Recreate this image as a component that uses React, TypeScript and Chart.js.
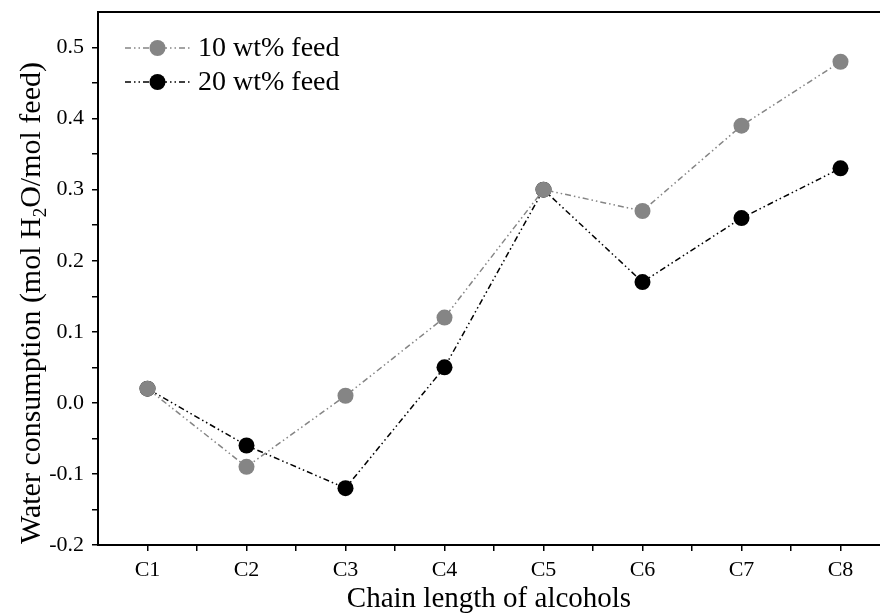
import React, { useEffect, useRef } from 'react';
import { Chart, registerables } from 'chart.js';

Chart.register(...registerables);

const categories = ['C1', 'C2', 'C3', 'C4', 'C5', 'C6', 'C7', 'C8'];
const feed10 = [0.02, -0.09, 0.01, 0.12, 0.30, 0.27, 0.39, 0.48];
const feed20 = [0.02, -0.06, -0.12, 0.05, 0.30, 0.17, 0.26, 0.33];
const seriesNames = ['10 wt% feed', '20 wt% feed'];
const seriesColors = ['#858585', '#000000'];
const yMajorTicks = [-0.2, -0.1, 0.0, 0.1, 0.2, 0.3, 0.4, 0.5];
const xTitle = 'Chain length of alcohols';
const yTitleParts = ['Water consumption (mol H', '2', 'O/mol feed)'];

const FONT = '"Liberation Serif", "Times New Roman", serif';
const DASH = [6, 3, 1.5, 3, 1.5, 3];

const decorPlugin = {
  id: 'decor',
  afterDraw(chart: any) {
    const { ctx, chartArea } = chart;
    ctx.save();
    // top border
    ctx.strokeStyle = '#000';
    ctx.lineWidth = 2;
    ctx.beginPath();
    ctx.moveTo(chartArea.left - 1, chartArea.top);
    ctx.lineTo(chartArea.right + 1, chartArea.top);
    ctx.stroke();

    // legend
    chart.data.datasets.forEach((ds: any, i: number) => {
      const cy = chartArea.top + 36 + i * 34;
      const x0 = chartArea.left + 27;
      const x1 = chartArea.left + 92;
      ctx.strokeStyle = ds.borderColor;
      ctx.lineWidth = 1.5;
      ctx.setLineDash(DASH);
      ctx.beginPath();
      ctx.moveTo(x0, cy);
      ctx.lineTo(x1, cy);
      ctx.stroke();
      ctx.setLineDash([]);
      ctx.fillStyle = ds.backgroundColor;
      ctx.beginPath();
      ctx.arc((x0 + x1) / 2, cy, 8, 0, Math.PI * 2);
      ctx.fill();
      ctx.fillStyle = '#000';
      ctx.font = '28px ' + FONT;
      ctx.textAlign = 'left';
      ctx.textBaseline = 'middle';
      ctx.fillText(ds.label, x1 + 8, cy + 1);
    });

    // x title
    ctx.fillStyle = '#000';
    ctx.font = '29px ' + FONT;
    ctx.textAlign = 'center';
    ctx.textBaseline = 'middle';
    ctx.fillText(xTitle, (chartArea.left + 880) / 2, 599);

    // y title with subscript
    ctx.translate(30, 303);
    ctx.rotate(-Math.PI / 2);
    const big = '30px ' + FONT;
    const small = '19px ' + FONT;
    ctx.font = big;
    const w0 = ctx.measureText(yTitleParts[0]).width;
    const w2 = ctx.measureText(yTitleParts[2]).width;
    ctx.font = small;
    const w1 = ctx.measureText(yTitleParts[1]).width;
    const total = w0 + w1 + w2;
    let x = -total / 2;
    ctx.textAlign = 'left';
    ctx.textBaseline = 'alphabetic';
    ctx.font = big;
    ctx.fillText(yTitleParts[0], x, 10);
    x += w0;
    ctx.font = small;
    ctx.fillText(yTitleParts[1], x, 16);
    x += w1;
    ctx.font = big;
    ctx.fillText(yTitleParts[2], x, 10);
    ctx.restore();
  },
};

export default function App() {
  const ref = useRef<HTMLCanvasElement>(null);
  useEffect(() => {
    document.body.style.margin = '0';
    document.body.style.overflow = 'hidden';
    const datasets = [feed10, feed20].map((vals, k) => ({
      label: seriesNames[k],
      data: vals.map((v, i) => ({ x: i + 1, y: v })),
      borderColor: seriesColors[k],
      backgroundColor: seriesColors[k],
      borderWidth: 1.5,
      borderDash: DASH,
      pointRadius: 8,
      pointBorderWidth: 0,
      pointHoverRadius: 8,
      tension: 0,
    }));
    const chart = new Chart(ref.current!, {
      type: 'line',
      data: { datasets },
      plugins: [decorPlugin],
      options: {
        animation: false,
        responsive: false,
        layout: { padding: { left: 8, top: 12, right: 10, bottom: 0 } },
        plugins: { legend: { display: false }, tooltip: { enabled: false } },
        scales: {
          x: {
            type: 'linear',
            min: 0.5,
            max: categories.length + 0.5,
            afterBuildTicks: (scale: any) => {
              const t: any[] = [];
              for (let i = 0; i <= categories.length * 2; i++) {
                const v = 0.5 + i * 0.5;
                if (v > 0.5 && v < categories.length + 0.5) t.push({ value: v });
              }
              scale.ticks = t;
            },
            afterFit: (scale: any) => {
              scale.height = 68;
              scale.paddingLeft = 0;
              scale.paddingRight = 0;
            },
            ticks: {
              autoSkip: false,
              maxRotation: 0,
              color: '#000',
              font: { family: FONT, size: 22 },
              padding: 6,
              callback: (v: any) => {
                const n = Number(v);
                return Number.isInteger(n) ? categories[n - 1] : '';
              },
            },
            grid: {
              display: true,
              drawOnChartArea: false,
              drawTicks: true,
              tickLength: 6,
              color: '#000',
              lineWidth: 1.5,
            },
            border: { display: true, color: '#000', width: 2 },
          },
          y: {
            type: 'linear',
            min: -0.2,
            max: 0.55,
            afterBuildTicks: (scale: any) => {
              const t: any[] = [];
              yMajorTicks.forEach((v, i) => {
                t.push({ value: v });
                if (i < yMajorTicks.length - 1) t.push({ value: v + 0.05 });
              });
              scale.ticks = t;
            },
            afterFit: (scale: any) => {
              scale.width = 90;
              scale.paddingTop = 0;
              scale.paddingBottom = 0;
            },
            ticks: {
              autoSkip: false,
              color: '#000',
              font: { family: FONT, size: 22 },
              padding: 8,
              callback: (v: any) => {
                const n = Number(v);
                const idx = yMajorTicks.findIndex((m) => Math.abs(m - n) < 1e-6);
                return idx >= 0 ? yMajorTicks[idx].toFixed(1) : '';
              },
            },
            grid: {
              display: true,
              drawOnChartArea: false,
              drawTicks: true,
              tickLength: 6,
              color: '#000',
              lineWidth: 1.5,
            },
            border: { display: true, color: '#000', width: 2 },
          },
        },
      },
    });
    return () => chart.destroy();
  }, []);
  return (
    <div style={{ position: 'fixed', left: 0, top: 0, width: 880, height: 613, overflow: 'hidden', background: '#fff' }}>
      <canvas ref={ref} width={900} height={613} style={{ display: 'block' }} />
    </div>
  );
}
